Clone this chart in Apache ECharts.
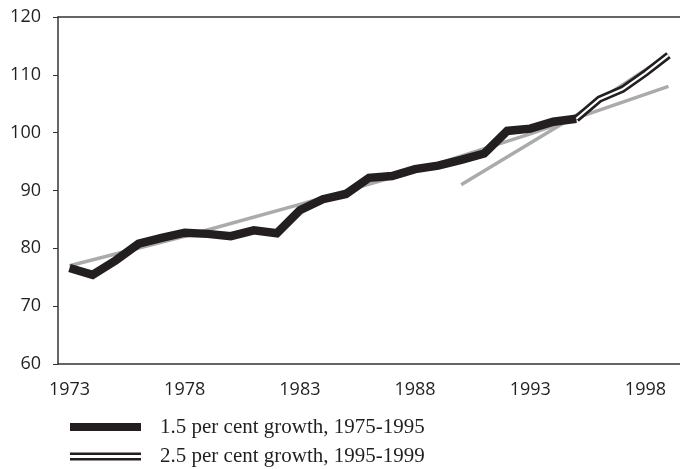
<!DOCTYPE html>
<html>
<head>
<meta charset="utf-8">
<script src="https://cdn.jsdelivr.net/npm/echarts@6/dist/echarts.min.js"></script>
<style>
  html, body { margin: 0; padding: 0; background: #fff; }
  #chart { width: 680px; height: 469px; }
</style>
</head>
<body>
<div id="chart"></div>
<script>
const years = ['1973','1974','1975','1976','1977','1978','1979','1980','1981','1982','1983','1984','1985',
  '1986','1987','1988','1989','1990','1991','1992','1993','1994','1995','1996','1997','1998','1999']

// actual index, 1973-1995
const actual = [76.6, 75.4, 77.9, 80.8, 81.8, 82.7, 82.5, 82.1, 83.1, 82.6, 86.6, 88.5, 89.4,
  92.2, 92.5, 93.7, 94.3, 95.3, 96.4, 100.3, 100.7, 101.9, 102.4,
  null, null, null, null]

// actual index, 1995-1999 (double line)
const recent = [null, null, null, null, null, null, null, null, null, null, null, null, null,
  null, null, null, null, null, null, null, null, null, 102.4,
  105.8, 107.5, 110.3, 113.4]

// trend curves, read at a few years
const trendSlow = [77.0, null, null, null, null, 82.1, null, null, null, null, 87.6, null, null,
  null, null, 93.4, null, null, null, null, 99.8, null, null, null, null, null, 108.0]
const trendFast = [null, null, null, null, null, null, null, null, null, null, null, null, null,
  null, null, null, null, 91.0, null, null, null, null, 103.0, null, null, null, 113.5]

const yTicks = { min: 60, max: 120, step: 10 }

const legendNames = ['1.5 per cent growth, 1975-1995', '2.5 per cent growth, 1995-1999']

const ink = '#231f20'
const grey = '#ababab'
const axisColor = '#333'

const chart = echarts.init(document.getElementById('chart'))

const lineBase = {
  type: 'line',
  symbol: 'none',
  smooth: false,
  connectNulls: true,
  silent: true
}

chart.setOption({
  animation: false,
  backgroundColor: '#fff',
  grid: { left: 58, top: 17, right: -6.7, bottom: 105 },
  legend: {
    orient: 'vertical',
    left: 70,
    top: 416.5,
    padding: 0,
    itemWidth: 71,
    itemHeight: 8,
    itemGap: 8.5,
    symbolKeepAspect: false,
    selectedMode: false,
    textStyle: {
      fontFamily: 'Liberation Serif',
      fontSize: 21,
      lineHeight: 20,
      color: ink,
      padding: [0, 0, 0, 14]
    },
    data: [
      { name: legendNames[0], icon: 'rect', itemStyle: { color: ink } },
      { name: legendNames[1], icon: 'path://M0,0H69V2.4H0Z M0,5.4H69V8H0Z', itemStyle: { color: ink } }
    ]
  },
  xAxis: [{
    type: 'category',
    data: years,
    boundaryGap: true,
    axisLine: { lineStyle: { color: axisColor, width: 1.5 } },
    axisTick: { interval: 0, length: 5, lineStyle: { color: axisColor, width: 1 } },
    axisLabel: {
      interval: 4,
      margin: 17,
      fontFamily: 'Open Sans',
      fontSize: 18,
      color: ink
    },
    splitLine: { show: false }
  }, {
    type: 'category',
    data: years,
    position: 'top',
    axisLine: { lineStyle: { color: axisColor, width: 1.5 } },
    axisTick: { show: false },
    axisLabel: { show: false }
  }],
  yAxis: {
    type: 'value',
    min: yTicks.min,
    max: yTicks.max,
    interval: yTicks.step,
    axisLine: { show: true, lineStyle: { color: axisColor, width: 1.5 } },
    axisTick: { show: true, length: 5, lineStyle: { color: axisColor, width: 1 } },
    axisLabel: {
      margin: 17,
      fontFamily: 'Open Sans',
      fontSize: 18,
      color: ink
    },
    splitLine: { show: false }
  },
  series: [
    { ...lineBase, name: 'trend slow', data: trendSlow, z: 1,
      lineStyle: { color: grey, width: 3.5, cap: 'butt' } },
    { ...lineBase, name: 'trend fast', data: trendFast, z: 1,
      lineStyle: { color: grey, width: 3.5, cap: 'butt' } },
    { ...lineBase, name: legendNames[0], data: actual, z: 3,
      itemStyle: { color: ink },
      lineStyle: { color: ink, width: 8.5, join: 'miter', cap: 'butt' } },
    { ...lineBase, name: legendNames[1], data: recent, z: 4,
      itemStyle: { color: ink },
      lineStyle: { color: ink, width: 7.5, join: 'miter', cap: 'butt' } },
    { ...lineBase, name: 'recent core', data: recent, z: 5,
      lineStyle: { color: '#fff', width: 2.2, join: 'miter', cap: 'butt' } }
  ]
})
</script>
</body>
</html>
